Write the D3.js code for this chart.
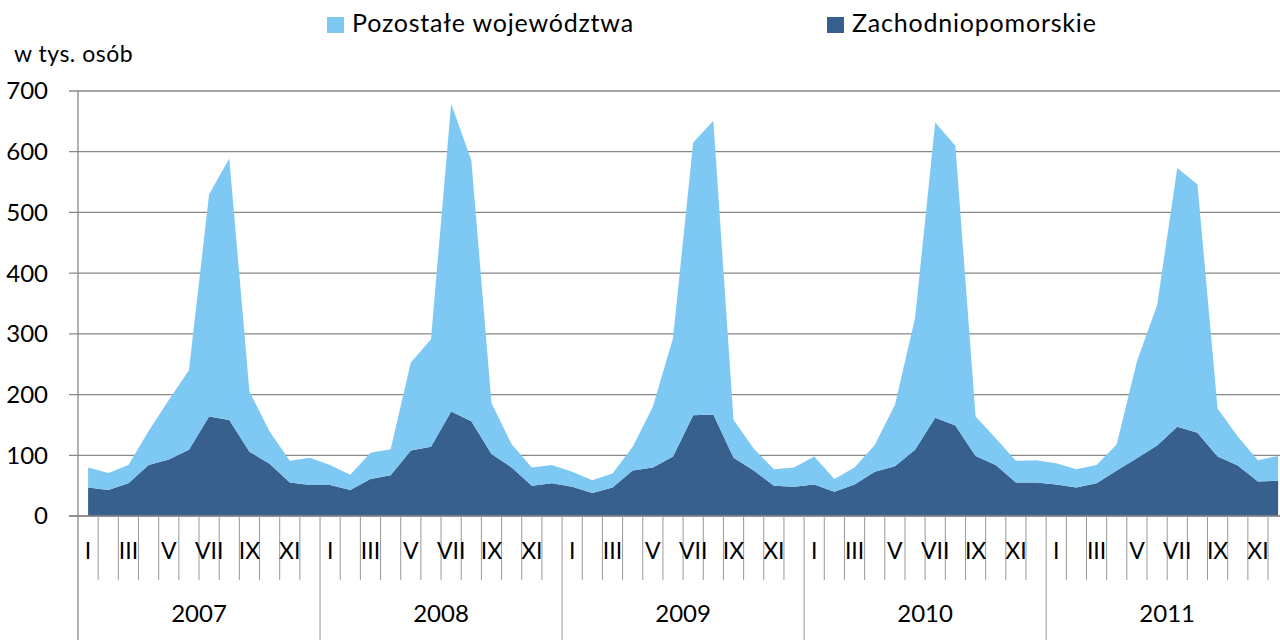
<!DOCTYPE html>
<html>
<head>
<meta charset="utf-8">
<script src="https://cdn.jsdelivr.net/npm/d3@7"></script>
<style>
  body { margin: 0; background: #fff; }
  svg { display: block; font-family: Lato, "Open Sans", sans-serif; }
</style>
</head>
<body>
<div id="chart"></div>
<script>
// data (thousands of persons), monthly 2007-2011
var years = ["2007", "2008", "2009", "2010", "2011"];
var monthLabels = ["I", "II", "III", "IV", "V", "VI", "VII", "VIII", "IX", "X", "XI", "XII"];
var yTicks = [0, 100, 200, 300, 400, 500, 600, 700];

// Zachodniopomorskie
var zachodnio = [
  47, 43, 54, 84, 93, 109, 164, 158, 106, 86, 55, 51,
  51, 43, 61, 67, 108, 114, 172, 156, 102, 80, 50, 54,
  48, 38, 47, 75, 80, 98, 166, 167, 96, 75, 50, 48,
  52, 40, 52, 73, 82, 109, 162, 149, 99, 84, 55, 55,
  52, 47, 54, 75, 95, 116, 147, 137, 98, 83, 57, 58
];
// total of all voivodeships (top edge of the stack)
var ogolem = [
  80, 71, 84, 140, 191, 240, 530, 589, 205, 139, 91, 96,
  84, 68, 104, 110, 253, 291, 679, 586, 186, 118, 80, 84,
  73, 59, 70, 114, 180, 293, 615, 651, 158, 111, 77, 80,
  98, 61, 80, 117, 183, 326, 648, 610, 164, 128, 91, 92,
  87, 77, 84, 118, 255, 347, 573, 546, 177, 131, 92, 99
];
var pozostale = ogolem.map((d, i) => d - zachodnio[i]);

var width = 1280, height = 640;
var x0 = 78, monthW = 20.17, yTop = 91, yBottom = 516;

var months = d3.range(zachodnio.length);

var svg = d3.select("#chart")
  .append("svg")
    .attr("width", width)
    .attr("height", height);

var x = d3.scaleBand()
  .domain(months)
  .range([x0, x0 + monthW * months.length])
  .padding(0);

var y = d3.scaleLinear()
  .domain([0, 700])
  .range([yBottom, yTop]);

var cx = i => x(i) + x.bandwidth() / 2;

// gridlines + y labels
svg.append("g")
  .selectAll("line")
  .data(yTicks)
  .enter()
  .append("line")
    .attr("x1", 69)
    .attr("x2", width)
    .attr("y1", d => y(d))
    .attr("y2", d => y(d))
    .style("stroke", "#888")
    .style("stroke-width", 1.3);

svg.append("g")
  .selectAll("text")
  .data(yTicks)
  .enter()
  .append("text")
    .attr("x", 48)
    .attr("y", d => y(d))
    .attr("dy", "0.35em")
    .attr("text-anchor", "end")
    .style("font-size", "24px")
    .style("fill", "#000")
    .text(d => d);

// stacked areas
var rows = months.map(i => ({i: i, zach: zachodnio[i], poz: pozostale[i]}));
var stack = d3.stack().keys(["zach", "poz"]);
var series = stack(rows);
var colors = {zach: "#37608f", poz: "#7ec9f3"};

var area = d3.area()
  .x(d => cx(d.data.i))
  .y0(d => y(d[0]))
  .y1(d => y(d[1]));

svg.append("g")
  .selectAll("path")
  .data(series)
  .enter()
  .append("path")
    .attr("d", area)
    .style("fill", d => colors[d.key]);

// axes lines
svg.append("line")
  .attr("x1", x0).attr("x2", x0)
  .attr("y1", yTop).attr("y2", height)
  .style("stroke", "#888").style("stroke-width", 1.3);
svg.append("line")
  .attr("x1", 69).attr("x2", width)
  .attr("y1", yBottom).attr("y2", yBottom)
  .style("stroke", "#888").style("stroke-width", 1.3);

// month separators
svg.append("g")
  .selectAll("line")
  .data(d3.range(1, months.length + 1))
  .enter()
  .append("line")
    .attr("x1", d => x0 + d * monthW)
    .attr("x2", d => x0 + d * monthW)
    .attr("y1", yBottom)
    .attr("y2", d => d % 12 === 0 ? height : 580)
    .style("stroke", "#999")
    .style("stroke-width", 1);

// month labels (every other)
svg.append("g")
  .selectAll("text")
  .data(months.filter(i => i % 2 === 0))
  .enter()
  .append("text")
    .attr("x", d => cx(d))
    .attr("y", 551)
    .attr("dy", "0.35em")
    .attr("text-anchor", "middle")
    .style("font-size", "23px")
    .text(d => monthLabels[d % 12]);

// year labels
svg.append("g")
  .selectAll("text")
  .data(years)
  .enter()
  .append("text")
    .attr("x", (d, k) => x0 + (k * 12 + 6) * monthW)
    .attr("y", 614)
    .attr("dy", "0.35em")
    .attr("text-anchor", "middle")
    .style("font-size", "24px")
    .text(d => d);

// unit label
svg.append("text")
  .attr("x", 14)
  .attr("y", 62)
  .style("font-size", "23px")
  .style("letter-spacing", "0.5px")
  .text("w tys. osób");

// legend
var legend = [
  {label: "Pozostałe województwa", color: colors.poz, x: 327},
  {label: "Zachodniopomorskie", color: colors.zach, x: 827}
];
var lg = svg.append("g")
  .selectAll("g")
  .data(legend)
  .enter()
  .append("g")
    .attr("transform", d => "translate(" + d.x + ",0)");
lg.append("rect")
  .attr("x", 0).attr("y", 17)
  .attr("width", 17).attr("height", 16)
  .style("fill", d => d.color);
lg.append("text")
  .attr("x", 25)
  .attr("y", 32)
  .style("font-size", "25px")
  .style("letter-spacing", "0.8px")
  .text(d => d.label);
</script>
</body>
</html>
